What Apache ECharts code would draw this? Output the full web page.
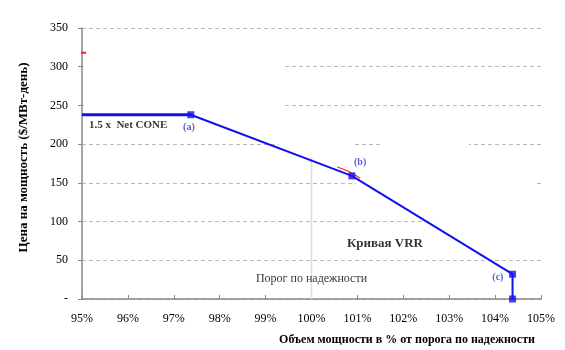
<!DOCTYPE html>
<html><head><meta charset="utf-8">
<script src="https://cdn.jsdelivr.net/npm/echarts@6/dist/echarts.min.js"></script>
<style>html,body{margin:0;padding:0;background:#fff}#c{width:565px;height:350px}</style>
</head><body><div id="c"></div>
<script>
// VRR curve points: capacity (% of reliability requirement), price ($/MW-day)
var vrrX = [95, 97.37, 100.88, 104.38, 104.38];
var vrrY = [238, 238, 159, 32, 0];
var markerIdx = [1, 2, 3, 4];
var reqLineX = [100, 100];
var reqLineY = [0, 183];
var redDashX = [94.96, 95.09];
var redDashY = [318, 318];
var redArcX = [100.56, 100.8, 101.06];
var redArcY = [170.5, 165, 156];
var xTicks = [95, 96, 97, 98, 99, 100, 101, 102, 103, 104, 105];
var yTicks = [0, 50, 100, 150, 200, 250, 300, 350];
var labels = [
  {text: '1.5 x  Net CONE', x: 95.15, y: 224, align: 'left', bold: true, size: 11, color: '#000'},
  {text: '(a)', x: 97.33, y: 221, align: 'center', bold: true, size: 10, color: '#3333cc'},
  {text: '(b)', x: 101.06, y: 176, align: 'center', bold: true, size: 10, color: '#3333cc'},
  {text: '(c)', x: 104.06, y: 28, align: 'center', bold: true, size: 10, color: '#3333cc'},
  {text: 'Кривая VRR', x: 101.6, y: 71, align: 'center', bold: true, size: 13, color: '#000'},
  {text: 'Порог по надежности', x: 100.0, y: 26, align: 'center', bold: false, size: 12, color: '#000'}
];
// white text-box backgrounds that hide parts of the gridlines (x0, x1, y0, y1 in axis units)
var masks = [
  [95.04, 99.42, 220.8, 321.6],
  [99.29, 100.93, 192, 208],
  [101.49, 103.43, 192, 208],
  [100.97, 104.87, 141, 156],
  [102.6, 105, 92, 107]
];
var serif = '"Liberation Serif","Times New Roman",serif';
var blue = '#1010f0';
var chart = echarts.init(document.getElementById('c'), null, {renderer: 'canvas'});
var lineData = vrrX.map(function (v, i) { return [v, vrrY[i]]; });
var markerData = markerIdx.map(function (i) { return [vrrX[i], vrrY[i]]; });
chart.setOption({
  animation: false,
  backgroundColor: '#fff',
  grid: {left: 82, right: 24, top: 28, bottom: 51},
  xAxis: {
    type: 'value', min: 95, max: 105, interval: 1,
    name: 'Объем мощности в % от порога по надежности',
    nameLocation: 'end', nameGap: 0,
    nameTextStyle: {fontFamily: serif, fontWeight: 'bold', fontSize: 12, color: '#000', align: 'right', verticalAlign: 'top', padding: [35, 6, 0, 0]},
    axisLine: {lineStyle: {color: '#888', width: 1.5}},
    axisTick: {inside: true, length: 4, lineStyle: {color: '#888'}},
    splitLine: {show: false},
    axisLabel: {fontFamily: serif, fontSize: 12, color: '#000', margin: 14, formatter: function (v) { return v + '%'; }}
  },
  yAxis: {
    type: 'value', min: 0, max: 350, interval: 50,
    name: 'Цена на мощность ($/МВт-день)',
    nameLocation: 'middle', nameGap: 52, nameRotate: 90,
    nameTextStyle: {fontFamily: serif, fontWeight: 'bold', fontSize: 13, color: '#000', padding: [0, 0, 0, 12]},
    axisLine: {show: true, lineStyle: {color: '#888', width: 1.5}},
    axisTick: {show: true, length: 4, lineStyle: {color: '#888'}},
    splitLine: {show: true, lineStyle: {color: '#bbb', type: [4, 3], width: 1}},
    axisLabel: {fontFamily: serif, fontSize: 12, color: '#000', margin: 14, formatter: function (v) { return v === 0 ? '-' : String(v); }}
  },
  series: [
    {type: 'custom', z: 0, silent: true, data: masks,
      renderItem: function (params, api) {
        var p0 = api.coord([api.value(0), api.value(3)]);
        var p1 = api.coord([api.value(1), api.value(2)]);
        return {type: 'rect', shape: {x: p0[0], y: p0[1], width: p1[0] - p0[0], height: p1[1] - p0[1]}, style: {fill: '#fff'}};
      },
      encode: {x: [0, 1], y: [2, 3]}},
    {type: 'line', data: reqLineX.map(function (v, i) { return [v, reqLineY[i]]; }), symbol: 'none', lineStyle: {color: '#ddd', width: 1.5}, z: 1},
    {type: 'line', data: lineData.slice(0, 2), symbol: 'none', lineStyle: {color: blue, width: 3}, z: 3},
    {type: 'line', data: lineData.slice(1), symbol: 'none', lineStyle: {color: blue, width: 2}, z: 3},
    {type: 'scatter', data: markerData, symbol: 'rect', symbolSize: 7, itemStyle: {color: blue}, z: 4},
    {type: 'line', data: redArcX.map(function (v, i) { return [v, redArcY[i]]; }), symbol: 'none', smooth: true, lineStyle: {color: '#ff2020', width: 1.2}, z: 2},
    {type: 'line', data: redDashX.map(function (v, i) { return [v, redDashY[i]]; }), symbol: 'none', clip: false, lineStyle: {color: '#ff2020', width: 2}, z: 5},
    {type: 'scatter', data: labels.map(function (l) { return {value: [l.x, l.y], label: {show: true, position: 'inside', formatter: l.text, align: l.align, verticalAlign: 'middle', fontFamily: serif, fontWeight: l.bold ? 'bold' : 'normal', fontSize: l.size, color: l.color}}; }), symbolSize: 0, itemStyle: {color: 'transparent'}, z: 6}
  ]
});
</script></body></html>
